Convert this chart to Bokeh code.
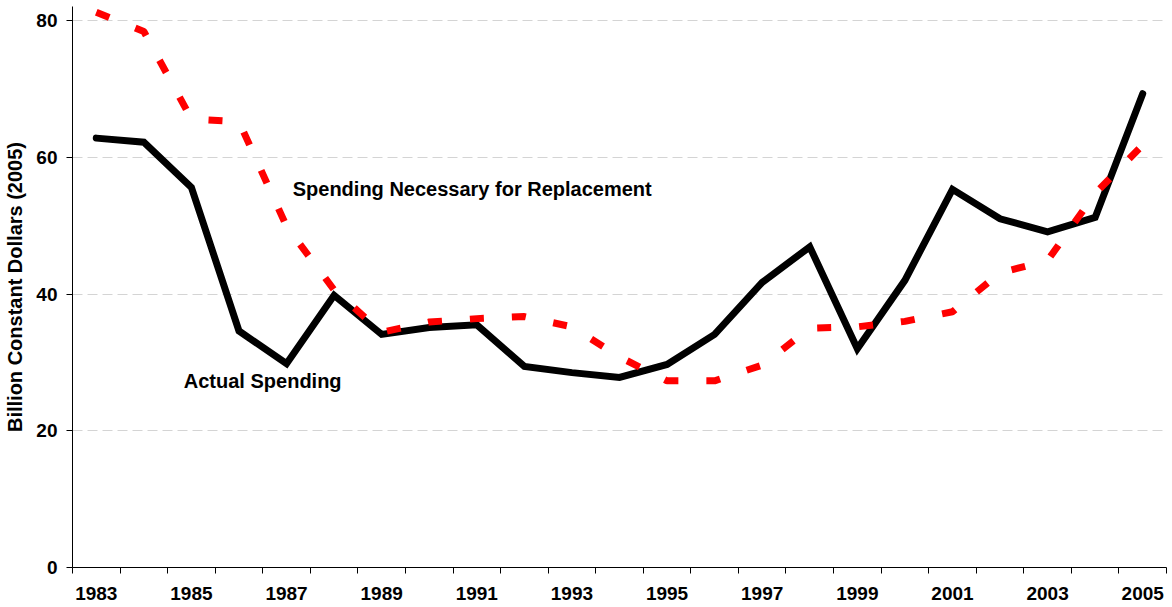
from bokeh.plotting import figure
from bokeh.models import Range1d, FixedTicker, Label, ColumnDataSource
from bokeh.embed import file_html
from bokeh.resources import INLINE

years = list(range(1983, 2006))
actual_spending = [62.8, 62.2, 55.6, 34.6, 29.8, 39.8, 34.1, 35.1, 35.5, 29.4, 28.5, 27.8,
                   29.7, 34.1, 41.7, 46.9, 32.0, 42.0, 55.3, 51.0, 49.1, 51.2, 69.3]
necessary_spending = [81.2, 78.4, 65.6, 65.2, 49.9, 40.6, 34.4, 35.9, 36.4, 36.7, 35.2, 30.8,
                      27.3, 27.3, 29.6, 35.0, 35.2, 36.0, 37.4, 43.1, 44.9, 54.7, 61.8]
label_years = [y for y in years if y % 2 == 1]
y_ticks = [0, 20, 40, 60, 80]

FONT = "Liberation Sans"

src = ColumnDataSource(dict(year=years, actual=actual_spending, need=necessary_spending))

p = figure(frame_width=1094, frame_height=561, min_border_left=72, min_border_right=6,
           min_border_top=6, min_border_bottom=40,
           x_range=Range1d(1982.5, 2005.5), y_range=Range1d(0, 82.05),
           output_backend="svg", toolbar_location=None,
           background_fill_color="white", border_fill_color="white")
p.outline_line_color = None

p.line("year", "actual", source=src, line_color="black", line_width=7,
       line_cap="round", line_join="miter")
p.line("year", "need", source=src, line_color="#FF0000", line_width=7,
       line_dash="14 28", line_cap="butt")

# x axis
xa = p.xaxis[0]
xa.ticker = FixedTicker(ticks=label_years, minor_ticks=[1982.5 + i for i in range(24)])
xa.major_tick_out = 0
xa.major_tick_in = 0
xa.minor_tick_out = 6
xa.minor_tick_in = 0
xa.minor_tick_line_color = "black"
xa.axis_line_color = "black"
xa.major_label_text_font = FONT
xa.major_label_text_font_style = "bold"
xa.major_label_text_font_size = "19px"
xa.major_label_text_color = "black"
xa.major_label_standoff = 13

# y axis
ya = p.yaxis[0]
ya.ticker = FixedTicker(ticks=y_ticks)
ya.major_tick_out = 6
ya.major_tick_in = 0
ya.minor_tick_out = 0
ya.minor_tick_in = 0
ya.axis_line_color = "black"
ya.major_tick_line_color = "black"
ya.major_label_text_font = FONT
ya.major_label_text_font_style = "bold"
ya.major_label_text_font_size = "19px"
ya.major_label_text_color = "black"
ya.major_label_standoff = 9
ya.axis_label = "Billion Constant Dollars (2005)"
ya.axis_label_text_font = FONT
ya.axis_label_text_font_style = "bold"
ya.axis_label_text_font_size = "20px"
ya.axis_label_text_color = "black"
ya.axis_label_standoff = 7

p.xgrid.grid_line_color = None
p.ygrid.grid_line_color = "#D4D4D4"
p.ygrid.grid_line_dash = "10 5"
p.ygrid.grid_line_width = 1

p.add_layout(Label(x=1987.13, y=55.4, text="Spending Necessary for Replacement",
                   text_font=FONT, text_font_style="bold", text_font_size="20px",
                   text_baseline="middle", text_align="left", text_color="black"))
p.add_layout(Label(x=1984.84, y=27.3, text="Actual Spending",
                   text_font=FONT, text_font_style="bold", text_font_size="20px",
                   text_baseline="middle", text_align="left", text_color="black"))

open("out.html", "w").write(file_html(p, INLINE))
